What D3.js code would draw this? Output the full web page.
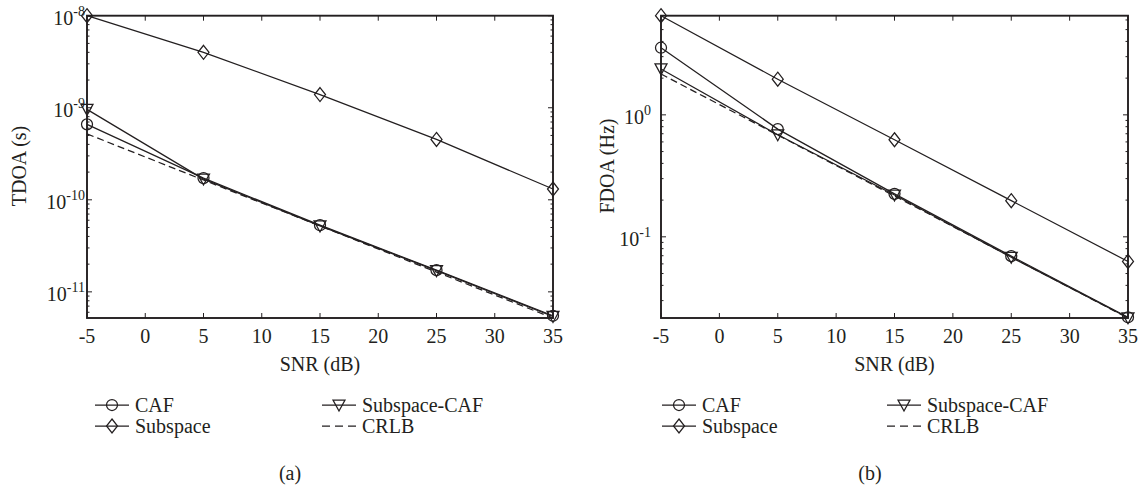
<!DOCTYPE html>
<html>
<head>
<meta charset="utf-8">
<title>TDOA / FDOA vs SNR</title>
<script src="https://d3js.org/d3.v7.min.js"></script>
<style>
  body { margin: 0; background: #fff; }
</style>
</head>
<body>
<div id="chart"></div>
<script>
// SNR steps (dB)
const snr = [-5, 5, 15, 25, 35];
const xTicks = [-5, 0, 5, 10, 15, 20, 25, 30, 35];

// (a) TDOA (s)
const tdoaCAF    = [6.6e-10, 1.72e-10, 5.3e-11, 1.72e-11, 5.5e-12];
const tdoaSubCAF = [9.6e-10, 1.68e-10, 5.2e-11, 1.70e-11, 5.4e-12];
const tdoaSub    = [1.0e-8, 4.0e-9, 1.39e-9, 4.53e-10, 1.31e-10];
const tdoaCRLB   = [5.2e-10, 1.64e-10, 5.2e-11, 1.64e-11, 5.2e-12];
const tdoaTicks  = [-8, -9, -10, -11];

// (b) FDOA (Hz)
const fdoaCAF    = [3.55, 0.764, 0.225, 0.0694, 0.0219];
const fdoaSubCAF = [2.38, 0.686, 0.220, 0.0680, 0.0217];
const fdoaSub    = [6.5, 1.96, 0.625, 0.198, 0.0628];
const fdoaCRLB   = [2.16, 0.683, 0.216, 0.0683, 0.0216];
const fdoaTicks  = [0, -1];

const seriesNames = ["CAF", "Subspace-CAF", "Subspace", "CRLB"];

const FONT = "Liberation Serif";
const INK = "#231f20";
const LW = 1.25;

const svg = d3.select("#chart").append("svg")
    .attr("width", 1138).attr("height", 490)
    .style("font-family", FONT);
svg.append("rect").attr("width", 1138).attr("height", 490).attr("fill", "#fff");

function marker(g, type, x, y) {
    if (type === "circle") {
        g.append("circle").attr("cx", x).attr("cy", y).attr("r", 5.5)
            .attr("fill", "none").attr("stroke", INK).attr("stroke-width", LW);
    } else if (type === "diamond") {
        g.append("path")
            .attr("d", `M${x},${y - 7}L${x + 5.5},${y}L${x},${y + 7}L${x - 5.5},${y}Z`)
            .attr("fill", "none").attr("stroke", INK).attr("stroke-width", LW);
    } else if (type === "tri") {
        g.append("path")
            .attr("d", `M${x - 6},${y - 5}L${x + 6},${y - 5}L${x},${y + 6}Z`)
            .attr("fill", "none").attr("stroke", INK).attr("stroke-width", LW);
    }
}

function label(g, x, y, size, str, anchor) {
    return g.append("text").attr("x", x).attr("y", y)
        .attr("text-anchor", anchor || "start")
        .style("font-family", FONT).style("font-size", size + "px")
        .attr("fill", INK).text(str);
}

function panel(opt) {
    const g = svg.append("g");
    const x = d3.scaleLinear().domain([-5, 35]).range([opt.left, opt.right]);
    const y = d3.scaleLog().domain(opt.domain).range([318, 15.7]);

    // minor ticks on log axis
    const lo = Math.floor(Math.log10(opt.domain[0])), hi = Math.ceil(Math.log10(opt.domain[1]));
    for (let e = lo; e <= hi; e++) {
        for (let m = 1; m <= 9; m++) {
            const v = m * Math.pow(10, e);
            if (v < opt.domain[0] || v > opt.domain[1]) continue;
            const len = m === 1 ? 5 : 2.5;
            g.append("line").attr("x1", opt.left).attr("x2", opt.left + len)
                .attr("y1", y(v)).attr("y2", y(v)).attr("stroke", INK).attr("stroke-width", 1);
            g.append("line").attr("x1", opt.right).attr("x2", opt.right - len)
                .attr("y1", y(v)).attr("y2", y(v)).attr("stroke", INK).attr("stroke-width", 1);
        }
    }
    // x ticks top and bottom
    xTicks.forEach(t => {
        g.append("line").attr("x1", x(t)).attr("x2", x(t)).attr("y1", 318).attr("y2", 313)
            .attr("stroke", INK);
        g.append("line").attr("x1", x(t)).attr("x2", x(t)).attr("y1", 15.7).attr("y2", 20.7)
            .attr("stroke", INK);
        label(g, x(t), 343, 20, t, "middle");
    });
    // y tick labels
    opt.ticks.forEach(e => {
        const t = label(g, opt.labelRight, y(Math.pow(10, e)) + 9, 20, "", "end");
        t.append("tspan").text("10");
        t.append("tspan").attr("dy", -9).style("font-size", "14px").text(e);
    });
    // box
    g.append("rect").attr("x", opt.left).attr("y", 15.7)
        .attr("width", opt.right - opt.left).attr("height", 318 - 15.7)
        .attr("fill", "none").attr("stroke", INK).attr("stroke-width", 1.9);

    const line = d3.line().x((d, i) => x(snr[i])).y(d => y(d));
    const types = ["circle", "tri", "diamond", null];
    opt.data.forEach((arr, k) => {
        g.append("path").attr("d", line(arr)).attr("fill", "none")
            .attr("stroke", INK).attr("stroke-width", LW)
            .attr("stroke-dasharray", types[k] ? null : "7,4");
        if (types[k]) arr.forEach((v, i) => marker(g, types[k], x(snr[i]), y(v)));
    });

    // axis labels
    label(g, (opt.left + opt.right) / 2, 371, 20, "SNR (dB)", "middle");
    label(g, 0, 0, 20, opt.ylabel, "middle")
        .attr("transform", `translate(${opt.ylabX},166) rotate(-90)`);
    label(g, opt.capX, 480, 20, opt.caption, "middle");

    // legend
    const rows = [
        {name: seriesNames[0], type: "circle", col: 0, row: 0},
        {name: seriesNames[1], type: "tri", col: 1, row: 0},
        {name: seriesNames[2], type: "diamond", col: 0, row: 1},
        {name: seriesNames[3], type: null, col: 1, row: 1}
    ];
    rows.forEach(r => {
        const lx = opt.legX[r.col], ly = 405 + r.row * 21;
        g.append("line").attr("x1", lx).attr("x2", lx + 34).attr("y1", ly).attr("y2", ly)
            .attr("stroke", INK).attr("stroke-width", LW)
            .attr("stroke-dasharray", r.type ? null : "8,5");
        if (r.type) marker(g, r.type, lx + 17, ly);
        label(g, lx + 40, ly + 7, 20, r.name);
    });
}

panel({
    left: 87, right: 553, domain: [5.2e-12, 1e-8], ticks: tdoaTicks, labelRight: 85,
    data: [tdoaCAF, tdoaSubCAF, tdoaSub, tdoaCRLB], ylabel: "TDOA (s)", ylabX: 26,
    caption: "(a)", capX: 290, legX: [95, 322]
});
panel({
    left: 661, right: 1128, domain: [0.0216, 6.5], ticks: fdoaTicks, labelRight: 651,
    data: [fdoaCAF, fdoaSubCAF, fdoaSub, fdoaCRLB], ylabel: "FDOA (Hz)", ylabX: 614,
    caption: "(b)", capX: 870, legX: [662, 887]
});
</script>
</body>
</html>
